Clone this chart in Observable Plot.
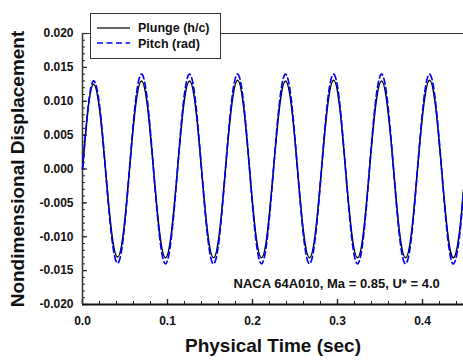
<!DOCTYPE html>
<html>
<head>
<meta charset="utf-8">
<script src="https://cdn.jsdelivr.net/npm/d3@7"></script>
<script src="https://cdn.jsdelivr.net/npm/@observablehq/plot@0.6"></script>
<style>
  html, body { margin: 0; padding: 0; background: #fff; }
  #wrap { position: relative; width: 463px; height: 360px; font-family: "Liberation Sans", Arial, sans-serif; }
  #legend { position: absolute; left: 90px; top: 13px; }
</style>
</head>
<body>
<div id="wrap"></div>
<script>
// Physical time (sec)
const time = [0,0.0065,0.0129,0.0200,0.0270,0.0341,0.0412,0.0482,0.0553,0.0623,0.0694,0.0765,0.0835,0.0906,0.0976,0.1047,0.1118,0.1188,0.1259,0.1330,0.1400,0.1471,0.1541,0.1612,0.1682,0.1753,0.1824,0.1894,0.1965,0.2035,0.2106,0.2176,0.2247,0.2318,0.2388,0.2459,0.2529,0.2600,0.2670,0.2741,0.2812,0.2882,0.2953,0.3024,0.3094,0.3165,0.3235,0.3306,0.3376,0.3447,0.3518,0.3588,0.3659,0.3729,0.3800,0.3871,0.3941,0.4012,0.4082,0.4153,0.4224,0.4294,0.4365,0.4435,0.4482];
// Plunge (h/c)
const plunge = [
  0, 0.0088, 0.0125, 0.0089, 0, -0.0092, -0.0130, -0.0093,
  0, 0.0092, 0.0130, 0.0092, 0, -0.0093, -0.0131, -0.0093,
  0, 0.0092, 0.0130, 0.0092, 0, -0.0093, -0.0131, -0.0093,
  0, 0.0092, 0.0131, 0.0093, 0, -0.0093, -0.0131, -0.0093,
  0, 0.0092, 0.0130, 0.0092, 0, -0.0093, -0.0131, -0.0093,
  0, 0.0092, 0.0131, 0.0093, 0, -0.0093, -0.0131, -0.0093,
  0, 0.0092, 0.0130, 0.0092, 0, -0.0093, -0.0131, -0.0093,
  0, 0.0092, 0.0131, 0.0093, 0, -0.0093, -0.0131, -0.0093,
  -0.0030];
// Pitch (rad)
const pitch = [
  0, 0.0090, 0.0130, 0.0094, 0, -0.0098, -0.0139, -0.0099,
  0, 0.0099, 0.0140, 0.0099, 0, -0.0099, -0.0140, -0.0099,
  0, 0.0099, 0.0140, 0.0099, 0, -0.0099, -0.0140, -0.0099,
  0, 0.0099, 0.0140, 0.0099, 0, -0.0099, -0.0140, -0.0099,
  0, 0.0099, 0.0140, 0.0099, 0, -0.0099, -0.0140, -0.0099,
  0, 0.0099, 0.0140, 0.0099, 0, -0.0099, -0.0140, -0.0099,
  0, 0.0099, 0.0140, 0.0099, 0, -0.0099, -0.0140, -0.0099,
  0, 0.0099, 0.0140, 0.0099, 0, -0.0099, -0.0140, -0.0099,
  -0.0033];

const xTicks = [0, 0.1, 0.2, 0.3, 0.4];
const yTicks = [-0.020, -0.015, -0.010, -0.005, 0.000, 0.005, 0.010, 0.015, 0.020];
const xDomain = [0, 0.4482];
const yDomain = [-0.020, 0.020];
const xTitle = "Physical Time (sec)";
const yTitle = "Nondimensional Displacement";
const seriesNames = ["Plunge (h/c)", "Pitch (rad)"];
const note = [{t: 0.299, v: -0.0170, text: "NACA 64A010, Ma = 0.85, U* = 4.0"}];

const xMinor = d3.range(0, 23).map(i => i * 0.02).filter(v => v <= 0.4482);
const yMinor = d3.range(-20, 21).map(i => i / 1000);

const rows = time.map((t, i) => ({t, h: plunge[i], p: pitch[i]}));
const font = {fontWeight: "bold"};

const chart = Plot.plot({
  width: 463,
  height: 360,
  marginLeft: 82,
  marginRight: 0,
  marginTop: 33,
  marginBottom: 56,
  style: {fontFamily: '"Liberation Sans", Arial, sans-serif', fontSize: "12px", fontWeight: "bold", background: "#fff", overflow: "visible"},
  x: {domain: xDomain, label: null},
  y: {domain: yDomain, label: null},
  marks: [
    Plot.axisY({ticks: yMinor, tickSize: -3, text: null, strokeWidth: 1, stroke: "#222"}),
    Plot.axisY({ticks: yTicks, tickSize: -5, text: null, strokeWidth: 1.2, stroke: "#222"}),
    Plot.axisX({ticks: xMinor, tickSize: -3, text: null, strokeWidth: 1, stroke: "#222"}),
    Plot.axisX({ticks: xTicks, tickSize: -5, text: null, strokeWidth: 1.4, stroke: "#222"}),
    Plot.axisY({ticks: yTicks, tickSize: 0, tickPadding: 9, tickFormat: d => d.toFixed(3), fontSize: 12, ...font, fill: "#111"}),
    Plot.axisX({ticks: xTicks, tickSize: 0, tickPadding: 12, tickFormat: d => d.toFixed(1), fontSize: 12, ...font, fill: "#111"}),
    Plot.ruleY([yDomain[1]], {stroke: "#333", strokeWidth: 1.2}),
    Plot.ruleY([yDomain[0]], {stroke: "#111", strokeWidth: 2}),
    Plot.ruleX([xDomain[0]], {stroke: "#333", strokeWidth: 1.5}),
    Plot.line(rows, {x: "t", y: "h", stroke: "#000", strokeWidth: 1.5, curve: "natural"}),
    Plot.line(rows, {x: "t", y: "p", stroke: "#0000ff", strokeWidth: 1.7, strokeDasharray: "6,3.5", curve: "natural"}),
    Plot.text(note, {x: "t", y: "v", text: "text", fontSize: 13, ...font, fill: "#111", textAnchor: "middle"}),
    Plot.text([yTitle], {text: d => d, frameAnchor: "left", textAnchor: "middle", lineAnchor: "middle", dx: -65, rotate: -90, fontSize: 19, ...font, fill: "#111"}),
    Plot.text([xTitle], {text: d => d, frameAnchor: "bottom", textAnchor: "middle", lineAnchor: "middle", dy: 41, fontSize: 19, ...font, fill: "#111"})
  ]
});

const wrap = document.getElementById("wrap");
wrap.appendChild(chart);

// legend
const leg = d3.create("svg").attr("id", "legend").attr("width", 132).attr("height", 47);
leg.append("rect").attr("x", 0.5).attr("y", 0.5).attr("width", 130).attr("height", 45)
  .attr("fill", "#fff").attr("stroke", "#333").attr("stroke-width", 1);
leg.append("line").attr("x1", 7).attr("x2", 40).attr("y1", 15).attr("y2", 15)
  .attr("stroke", "#333").attr("stroke-width", 1.3);
leg.append("line").attr("x1", 7).attr("x2", 40).attr("y1", 30).attr("y2", 30)
  .attr("stroke", "#0000ff").attr("stroke-width", 1.5).attr("stroke-dasharray", "6,3.5");
[seriesNames[0], seriesNames[1]].forEach((name, i) => {
  leg.append("text").attr("x", 48).attr("y", 19 + i * 16)
    .attr("font-family", '"Liberation Sans", Arial, sans-serif')
    .attr("font-size", 12.5).attr("font-weight", "bold").attr("fill", "#111").text(name);
});
wrap.appendChild(leg.node());
</script>
</body>
</html>
